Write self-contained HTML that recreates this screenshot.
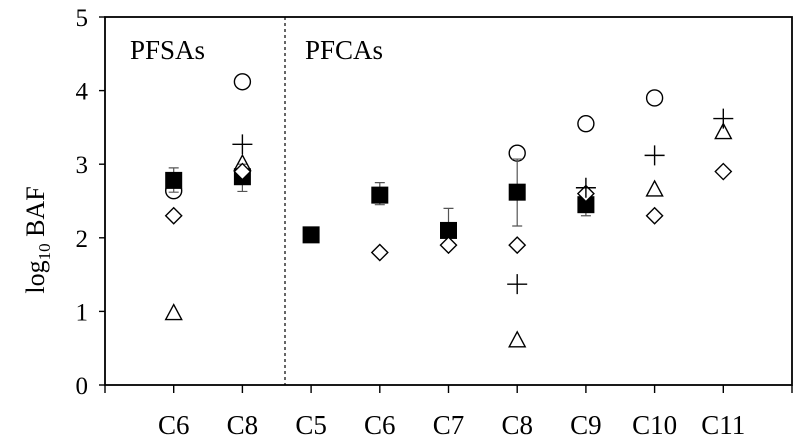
<!DOCTYPE html>
<html><head><meta charset="utf-8"><style>
body{margin:0;background:#fff}
svg{display:block;font-family:"Liberation Serif",serif}
</style></head><body>
<svg id="chart" width="794" height="448">
<g id="axes"></g>
<g id="marks"></g>
</svg>
<script>
const categories=["C6","C8","C5","C6","C7","C8","C9","C10","C11"];
const yTicks=[0,1,2,3,4,5];
const squareVals=[2.78,2.83,2.04,2.58,2.1,2.62,2.45,null,null];
const errLow=[2.62,2.63,1.98,2.45,2.1,2.16,2.3,null,null];
const errHigh=[2.95,3.0,2.1,2.75,2.4,3.07,2.6,null,null];
const circleVals=[2.64,4.12,null,null,null,3.15,3.55,3.9,null];
const plusVals=[null,3.27,null,null,null,1.37,2.68,3.12,3.62];
const triangleVals=[0.97,3.0,null,null,null,0.6,null,2.65,3.43];
const diamondVals=[2.3,2.9,null,1.8,1.9,1.9,2.6,2.3,2.9];
const L=105,R=792,T=17,B=385;
const xs=i=>L+(R-L)/10*(i+1);
const ys=v=>B-(B-T)*v/5;
const NS="http://www.w3.org/2000/svg";
function mk(p,tag,a){const e=document.createElementNS(NS,tag);for(const k in a)e.setAttribute(k,a[k]);p.appendChild(e);return e;}
const ax=document.getElementById('axes'),mg=document.getElementById('marks');
let fr=mk(ax,'rect',{x:L,y:T,width:R-L,height:B-T,fill:'none',stroke:'#000','stroke-width':1.8});


let dl=mk(ax,'line',{x1:285,x2:285,y1:T,y2:B,stroke:'#000','stroke-width':1.2,'stroke-dasharray':'3,3'});


yTicks.forEach(v=>{
 let t=mk(ax,'line',{x1:L-6,x2:L,y1:ys(v),y2:ys(v),stroke:'#000','stroke-width':1.4});
 
 
 let tx=mk(ax,'text',{x:L-17,y:ys(v)+9,'font-size':25,'text-anchor':'end'});tx.textContent=v;
 
 
});
for(let i=-1;i<=categories.length;i++){
 let t=mk(ax,'line',{x1:xs(i),x2:xs(i),y1:B,y2:B+8,stroke:'#000','stroke-width':1.4});
 
 
}
categories.forEach((c,i)=>{
 let tx=mk(ax,'text',{x:xs(i),y:434,'font-size':27,'text-anchor':'middle'});tx.textContent=c;
 
 
});
let yl=mk(ax,'text',{transform:'translate(44,240) rotate(-90)','font-size':26,'text-anchor':'middle'});
yl.innerHTML='log<tspan font-size="17" dy="6">10</tspan><tspan dy="-6"> BAF</tspan>';


let g1=mk(ax,'text',{x:130,y:59,'font-size':27});g1.textContent='PFSAs';


let g2=mk(ax,'text',{x:305,y:59,'font-size':27});g2.textContent='PFCAs';


const sw={stroke:'#000','stroke-width':1.4,fill:'none'};
circleVals.forEach((v,i)=>{if(v==null)return;
 let e=mk(mg,'circle',Object.assign({cx:xs(i),cy:ys(v),r:8},sw));
 
 });
squareVals.forEach((v,i)=>{if(v==null)return;
 let x=xs(i);
 let e=mk(mg,'path',{d:`M${x},${ys(errLow[i])}V${ys(errHigh[i])}M${x-5},${ys(errLow[i])}h10M${x-5},${ys(errHigh[i])}h10`,stroke:'#555','stroke-width':1.2,fill:'none'});
 
 
 let s=mk(mg,'rect',{x:x-8.5,y:ys(v)-8.5,width:17,height:17,fill:'#000'});
 
 });
triangleVals.forEach((v,i)=>{if(v==null)return;
 let x=xs(i),y=ys(v);
 let e=mk(mg,'path',Object.assign({d:`M${x},${y-9}L${x+8},${y+6}L${x-8},${y+6}Z`},sw));
 
 });
diamondVals.forEach((v,i)=>{if(v==null)return;
 let x=xs(i),y=ys(v);
 let e=mk(mg,'path',{d:`M${x},${y-8}L${x+8},${y}L${x},${y+8}L${x-8},${y}Z`,stroke:'#000','stroke-width':1.4,fill:'#fff'});
 
 });
plusVals.forEach((v,i)=>{if(v==null)return;
 let x=xs(i),y=ys(v);
 let e=mk(mg,'path',Object.assign({d:`M${x-10},${y}h20M${x},${y-10}v20`},sw));
 
 });
</script>
</body></html>
